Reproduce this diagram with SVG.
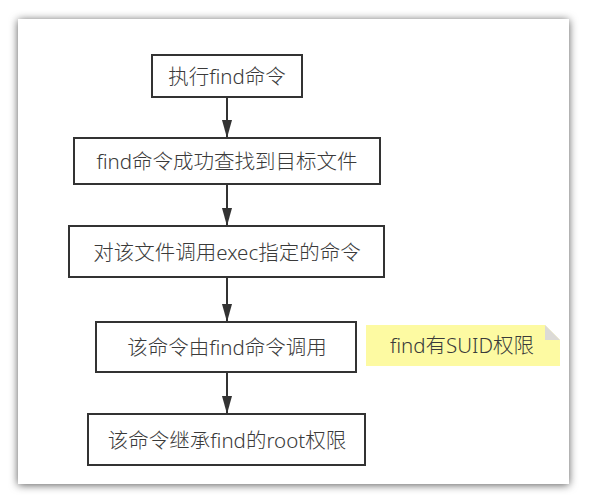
<svg xmlns="http://www.w3.org/2000/svg" width="589" height="504" viewBox="0 0 589 504">
<style>
.box{fill:#fff;stroke:#333;stroke-width:2}
.t{font-family:"Noto Sans","Noto Sans CJK SC",sans-serif;font-size:20.5px;font-weight:300;fill:#3a3a3a;text-anchor:middle;dominant-baseline:central}
.c{stroke:#333;stroke-width:2;fill:none;marker-end:url(#ah)}
</style>
<defs>
<filter id="sh" x="-10%" y="-10%" width="120%" height="120%">
<feDropShadow dx="0" dy="1" stdDeviation="4" flood-color="#000" flood-opacity="0.65"/>
</filter>
<marker id="ah" markerWidth="18" markerHeight="10" refX="18" refY="5" orient="auto" markerUnits="userSpaceOnUse" viewBox="0 0 18 10">
<path d="M0,0 L18,5 L0,10 Z" fill="#333"/>
</marker>
</defs>
<rect width="589" height="504" fill="#fff"/>
<rect x="18" y="19" width="551" height="465" fill="#fff" filter="url(#sh)"/>
<g id="connectors">
<line class="c" x1="227" y1="97" x2="227" y2="138"/>
<line class="c" x1="227" y1="184" x2="227" y2="226"/>
<line class="c" x1="227" y1="277" x2="227" y2="322"/>
<line class="c" x1="227" y1="372" x2="227" y2="414"/>
</g>
<g id="n1"><rect class="box" x="152" y="55" width="150" height="42"/><text class="t" x="227" y="76">执行find命令</text></g>
<g id="n2"><rect class="box" x="74" y="138" width="306" height="46"/><text class="t" x="227" y="161">find命令成功查找到目标文件</text></g>
<g id="n3"><rect class="box" x="69" y="226" width="315" height="51"/><text class="t" x="227" y="252">对该文件调用exec指定的命令</text></g>
<g id="n4"><rect class="box" x="96" y="322" width="260" height="50"/><text class="t" x="227" y="347">该命令由find命令调用</text></g>
<g id="n5"><rect class="box" x="88" y="414" width="277" height="51"/><text class="t" x="227" y="440">该命令继承find的root权限</text></g>
<g id="note">
<path d="M366,325 H545 L560,340 V366 H366 Z" fill="#fdfaa2"/>
<path d="M545,325 L560,340 H545 Z" fill="#dcdad6"/>
<text class="t" x="462" y="345">find有SUID权限</text>
</g>
</svg>
